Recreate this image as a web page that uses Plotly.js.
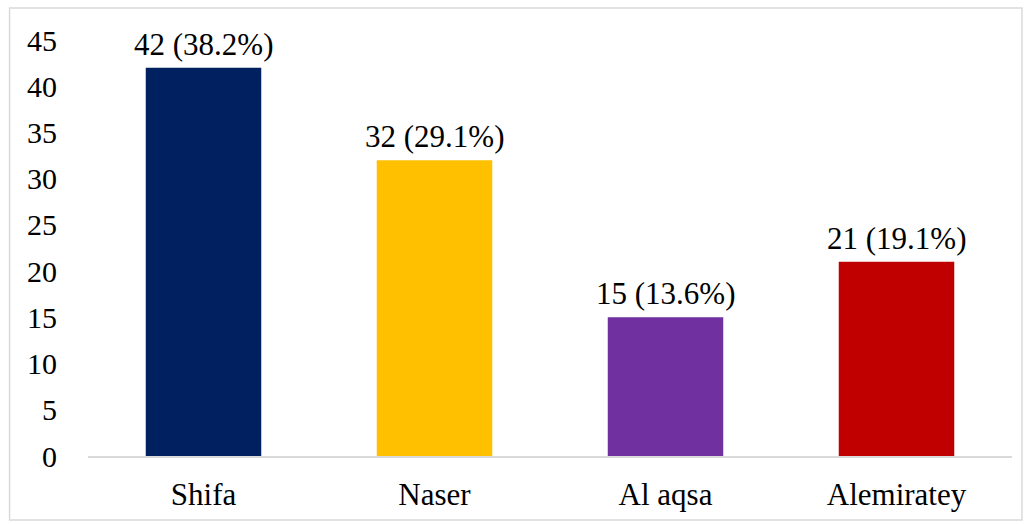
<!DOCTYPE html>
<html>
<head>
<meta charset="utf-8">
<script src="https://cdn.plot.ly/plotly-3.0.1.min.js"></script>
<style>html,body{margin:0;padding:0;background:#fff;}#chart{width:1031px;height:524px;}</style>
</head>
<body>
<div id="chart"></div>
<script>
const categories = ["Shifa", "Naser", "Al aqsa", "Alemiratey"];
const counts = [42, 32, 15, 21];
const percents = ["38.2%", "29.1%", "13.6%", "19.1%"];
const colors = ["#002060", "#FFC000", "#7030A0", "#C00000"];

const FONT = "'Liberation Serif', 'Times New Roman', serif";
const labels = counts.map((c, i) => c + " (" + percents[i] + ")");

const trace = {
  type: "bar",
  x: categories,
  y: counts,
  marker: {color: colors},
  width: 0.5,
  hoverinfo: "none"
};

const annotations = categories.map((cat, i) => ({
  x: cat,
  y: counts[i],
  xref: "x",
  yref: "y",
  text: labels[i],
  showarrow: false,
  yanchor: "bottom",
  yshift: 4,
  font: {family: FONT, size: 31, color: "#000"}
}));

const layout = {
  width: 1031,
  height: 524,
  margin: {l: 87.5, r: 19, t: 40, b: 68},
  paper_bgcolor: "#fff",
  plot_bgcolor: "#fff",
  showlegend: false,
  font: {family: FONT, size: 31, color: "#000"},
  xaxis: {
    showgrid: false,
    zeroline: false,
    showline: true,
    linecolor: "#D9D9D9",
    linewidth: 2,
    ticks: "outside",
    ticklen: 10,
    tickcolor: "rgba(0,0,0,0)",
    tickfont: {family: FONT, size: 31}
  },
  yaxis: {
    range: [0, 45],
    dtick: 5,
    showgrid: false,
    zeroline: false,
    showline: false,
    ticks: "outside",
    ticklen: 24,
    tickcolor: "rgba(0,0,0,0)",
    tickfont: {family: FONT, size: 30}
  },
  annotations: annotations,
  shapes: [{
    type: "rect",
    xref: "paper", yref: "paper",
    x0: -0.0849, x1: 1.0108, y0: -0.1538, y1: 1.0769,
    line: {color: "#D9D9D9", width: 1.5},
    fillcolor: "rgba(0,0,0,0)",
    layer: "below"
  }]
};

Plotly.newPlot("chart", [trace], layout, {staticPlot: true, displayModeBar: false});
</script>
</body>
</html>
